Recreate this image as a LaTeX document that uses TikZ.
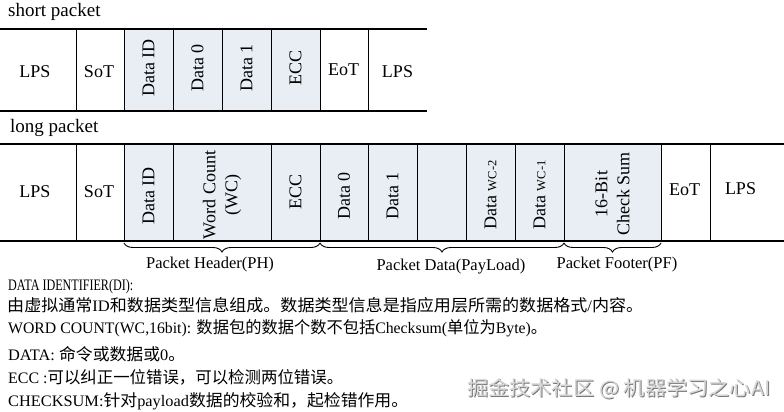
\documentclass[tikz,border=0pt]{standalone}
\usepackage{fontspec}
\setmainfont{Liberation Serif}
\newfontfamily\cjk{Noto Sans CJK SC}
\usetikzlibrary{decorations.pathreplacing}
\definecolor{pk}{RGB}{233,237,244}
\definecolor{wmlight}{RGB}{215,215,215}
\definecolor{wmdark}{RGB}{120,120,120}
\newcommand{\cj}[1]{{\cjk\fontsize{16.5}{19}\selectfont #1}}
\newcommand{\smallwc}[1]{{\fontsize{12.5}{15}\selectfont #1}}
\newcommand{\fitline}[2]{\resizebox{#1pt}{\height}{#2}}
\tikzset{
  cell/.style={font=\fontsize{18}{22}\selectfont, inner sep=0pt, align=center},
  rcell/.style={cell, rotate=90},
  hline/.style={line width=2.4pt},
  vline/.style={line width=0.9pt},
  brc/.style={decorate, decoration={brace, amplitude=9pt, mirror}, line width=0.9pt},
  blabel/.style={font=\fontsize{16.5}{19}\selectfont, anchor=base, inner sep=0pt},
  title/.style={font=\fontsize{19}{22}\selectfont, anchor=base west, inner sep=0pt},
  note/.style={font=\fontsize{16}{19}\selectfont, anchor=base west, inner sep=0pt},
}
\begin{document}
\begin{tikzpicture}[x=1pt,y=-1pt]
\useasboundingbox (0,0) rectangle (784,412);
\fill[white] (0,0) rectangle (784,412);

% ---------- short packet ----------
\node[title] (tshort) at (8,17) {short packet};
\fill[pk] (124,29) rectangle (320,111);
\foreach \x in {76,124,173,222,271,320,368}
  \draw[vline] (\x,29) -- (\x,111);
\draw[hline] (0,29) -- (427,29);
\draw[hline] (0,111) -- (427,111);
\node[cell]  (s1) at (35,72) {LPS};
\node[cell]  (s2) at (99,72) {SoT};
\node[rcell] (s3) at (148.5,68) {Data ID};
\node[rcell] (s4) at (197.5,68) {Data 0};
\node[rcell] (s5) at (246.5,68) {Data 1};
\node[rcell] (s6) at (295.5,68) {ECC};
\node[cell]  (s7) at (343.5,70) {EoT};
\node[cell]  (s8) at (397.5,72) {LPS};

% ---------- long packet ----------
\node[title] (tlong) at (10,132) {long packet};
\fill[pk] (124,144) rectangle (661,241);
\foreach \x in {76,124,173,271,320,368,417,466,515,564,661,710}
  \draw[vline] (\x,144) -- (\x,241);
\draw[hline] (0,144) -- (784,144);
\draw[hline] (0,241) -- (784,241);
\node[cell]  (l1) at (35,192) {LPS};
\node[cell]  (l2) at (99,192) {SoT};
\node[rcell] (l3) at (148.5,196) {Data ID};
\node[rcell] (l4) at (222,195) {Word Count\\(WC)};
\node[rcell] (l5) at (295.5,192) {ECC};
\node[rcell] (l6) at (344,196) {Data 0};
\node[rcell] (l7) at (392.5,196) {Data 1};
\node[rcell] (l8) at (490.5,195) {Data \smallwc{WC-2}};
\node[rcell] (l9) at (539.5,195) {Data \smallwc{WC-1}};
\node[rcell] (l10) at (612.5,194) {16-Bit\\Check Sum};
\node[cell]  (l11) at (684.5,190) {EoT};
\node[cell]  (l12) at (740.5,189) {LPS};

% ---------- braces ----------
\coordinate (b0) at (124,243);
\coordinate (b1) at (320,243);
\coordinate (b2) at (564,243);
\coordinate (b3) at (661,243);
\draw[brc] (b0) -- (b1);
\draw[brc] (b1) -- (b2);
\draw[brc] (b2) -- (b3);
\node[blabel] (ph) at (210,268) {Packet Header(PH)};
\node[blabel] (pd) at (451,270) {Packet Data(PayLoad)};
\node[blabel] (pf) at (617,268) {Packet Footer(PF)};

% ---------- notes ----------
\node[note] (n1) at (8,290) {\fitline{125}{DATA IDENTIFIER(DI):}};
\node[note] (n2) at (7,311) {\fitline{636}{\cj{由虚拟通常}ID\cj{和数据类型信息组成。数据类型信息是指应用层所需的数据格式}/\cj{内容。}}};
\node[note] (n3) at (8,333) {\fitline{539}{WORD COUNT(WC,16bit): \cj{数据包的数据个数不包括}Checksum(\cj{单位为}Byte)\cj{。}}};
\node[note] (n4) at (8,360) {\fitline{177}{DATA: \cj{命令或数据或}0\cj{。}}};
\node[note] (n5) at (8,383) {\fitline{335}{ECC :\cj{可以纠正一位错误，可以检测两位错误。}}};
\node[note] (n6) at (8,406) {\fitline{400}{CHECKSUM:\cj{针对}payload\cj{数据的校验和，起检错作用。}}};

% ---------- watermark ----------
\node[anchor=base west, inner sep=0pt, text=wmdark, font=\cjk\fontsize{20}{22}\selectfont] (wmks) at (468,396) {\fitline{303}{掘金技术社区 @ 机器学习之心AI}};
\node[anchor=base west, inner sep=0pt, text=wmlight, font=\cjk\fontsize{20}{22}\selectfont] (wmk) at (467,395) {\fitline{303}{掘金技术社区 @ 机器学习之心AI}};
\end{tikzpicture}
\end{document}
